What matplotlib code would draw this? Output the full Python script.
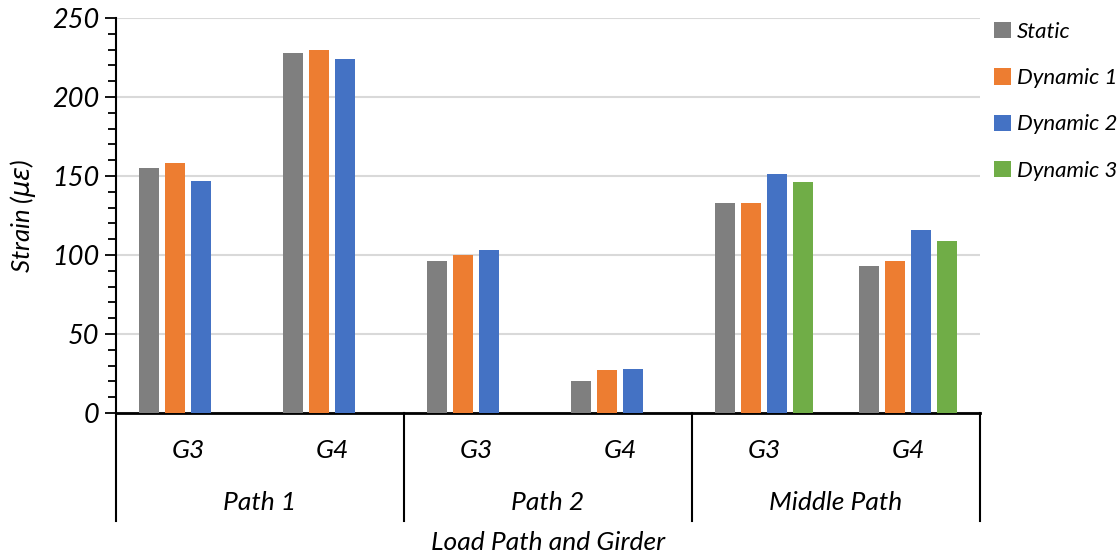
import numpy as np
import matplotlib
matplotlib.use("Agg")
import matplotlib.pyplot as plt
from matplotlib.patches import Patch
from matplotlib.transforms import blended_transform_factory

girders = ["G3", "G4", "G3", "G4", "G3", "G4"]
paths = ["Path 1", "Path 2", "Middle Path"]
series_names = ["Static", "Dynamic 1", "Dynamic 2", "Dynamic 3"]
static = [155, 228, 96, 20, 133, 93]
dynamic1 = [158, 230, 100, 27, 133, 96]
dynamic2 = [147, 224, 103, 28, 151, 116]
dynamic3 = [np.nan, np.nan, np.nan, np.nan, 146, 109]
colors = ["#7f7f7f", "#ed7d31", "#4472c4", "#70ad47"]

plt.rcParams['font.family'] = ['Lato', 'DejaVu Sans']
fig = plt.figure(figsize=(11.19, 5.57), dpi=100)
ax = fig.add_axes([116/1119, (557-413)/557, (980-116)/1119, 395/557])

x = np.arange(len(girders))
slot = 26/144
bw = 20.5/144
all_series = [static, dynamic1, dynamic2, dynamic3]
for i, (vals, c) in enumerate(zip(all_series, colors)):
    ax.bar(x + (i - 1.5)*slot, vals, width=bw, color=c, zorder=3)

ax.set_xlim(-0.5, len(girders)-0.5)
ax.set_ylim(0, 250)
ax.set_yticks(np.arange(0, 251, 50))
ax.set_yticks(np.arange(0, 251, 10), minor=True)
ax.yaxis.grid(True, which='major', color='#d9d9d9', linewidth=1.5, zorder=0)
ax.set_axisbelow(True)
for lab in ax.get_yticklabels():
    lab.set_fontstyle('italic')
ax.tick_params(axis='y', which='major', direction='out', length=8, width=1.3, labelsize=19.5, pad=4)
ax.tick_params(axis='y', which='minor', direction='out', length=6, width=1.3)
ax.set_ylabel("Strain ($\\mu\\varepsilon$)", fontsize=18.5, style='italic', labelpad=10)

ax.spines['top'].set_visible(False)
ax.spines['right'].set_visible(False)
ax.spines['left'].set_linewidth(1.5)
ax.spines['bottom'].set_linewidth(2)

ax.set_xticks([])
trans = blended_transform_factory(ax.transData, ax.transAxes)
for xi, g in zip(x, girders):
    ax.text(xi, -37/395, g, transform=trans, ha='center', va='center', fontsize=19, style='italic')
for k, p in enumerate(paths):
    ax.text(2*k + 0.5, -90/395, p, transform=trans, ha='center', va='center', fontsize=19, style='italic')
for sx in [-0.5, 1.5, 3.5, 5.5]:
    ax.plot([sx, sx], [0, -108/395], transform=trans, color='black', linewidth=1.5, clip_on=False)
ax.text(0.5, -130/395, "Load Path and Girder", transform=ax.transAxes, ha='center', va='center',
        fontsize=19, style='italic')

handles = [Patch(facecolor=c, edgecolor='none') for c in colors]
fig.legend(handles, series_names, loc='upper left', bbox_to_anchor=(994/1119, 1 - 22/557),
           frameon=False, prop={'size': 16, 'style': 'italic'}, handlelength=0.75, handleheight=0.75,
           handletextpad=0.3, labelspacing=1.18, borderaxespad=0, borderpad=0)

fig.savefig("out.png", dpi=100)
